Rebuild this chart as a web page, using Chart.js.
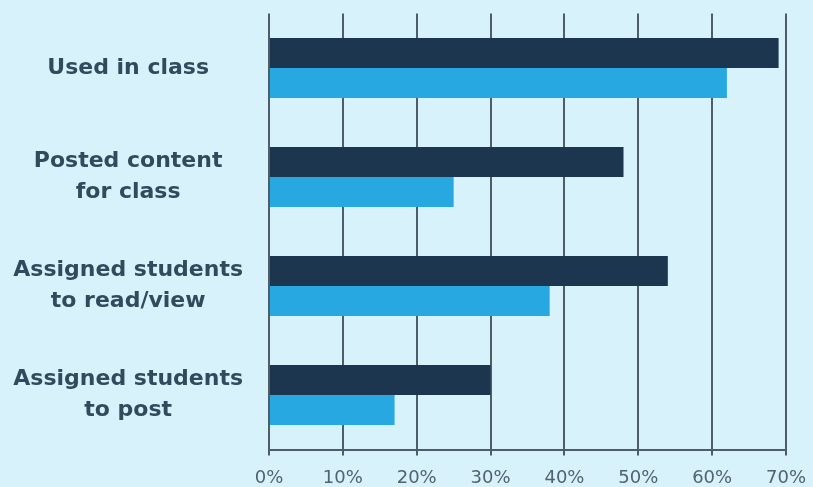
<!DOCTYPE html>
<html>
<head>
<meta charset="utf-8">
<script src="https://cdn.jsdelivr.net/npm/chart.js@4"></script>
<style>
  html, body { margin: 0; padding: 0; background: #d8f2fc; }
  canvas { display: block; }
</style>
</head>
<body>
<canvas id="chart" width="813" height="487"></canvas>
<script>
// categories (multi-line labels) and the two series
const categories = [
    ["Used in class"],
    ["Posted content", "for class"],
    ["Assigned students", "to read/view"],
    ["Assigned students", "to post"]
];
const darkValues = [69, 48, 54, 30];
const lightValues = [62, 25, 38, 17];
const tickValues = [0, 10, 20, 30, 40, 50, 60, 70];

const gridColor = "#4e5e66";

const ctx = document.getElementById("chart").getContext("2d");

const chart = new Chart(ctx, {
    type: "bar",
    data: {
        labels: categories,
        datasets: [
            {
                label: "dark",
                data: darkValues,
                backgroundColor: "#1c3650",
                borderWidth: 0,
                categoryPercentage: 0.55,
                barPercentage: 1.0
            },
            {
                label: "light",
                data: lightValues,
                backgroundColor: "#27a8e1",
                borderWidth: 0,
                categoryPercentage: 0.55,
                barPercentage: 1.0
            }
        ]
    },
    options: {
        indexAxis: "y",
        responsive: false,
        animation: false,
        layout: {
            padding: { top: 13.5, right: 27, left: 0, bottom: 0 }
        },
        plugins: {
            legend: { display: false },
            tooltip: { enabled: false }
        },
        scales: {
            x: {
                min: tickValues[0],
                max: tickValues[tickValues.length - 1],
                afterBuildTicks: (scale) => {
                    scale.ticks = tickValues.map((v) => ({ value: v }));
                },
                afterFit: (scale) => {
                    scale.height = 37.5;
                    scale.paddingLeft = 0;
                    scale.paddingRight = 0;
                },
                grid: {
                    color: gridColor,
                    lineWidth: 2,
                    drawTicks: true,
                    tickLength: 6
                },
                border: {
                    display: true,
                    color: gridColor,
                    width: 2
                },
                ticks: {
                    padding: 12,
                    color: "#50636e",
                    font: { family: "DejaVu Sans", size: 18 },
                    callback: (v) => v + "%"
                }
            },
            y: {
                afterFit: (scale) => {
                    // keep the label column fixed and stop it padding the chart area
                    scale.width = 269;
                    scale.paddingTop = 0;
                    scale.paddingBottom = 0;
                },
                grid: { display: false, drawTicks: false },
                border: { display: false },
                ticks: {
                    crossAlign: "center",
                    padding: 26,
                    color: "#2f4b5d",
                    font: { family: "DejaVu Sans", size: 22, weight: "bold", lineHeight: 1.4 }
                }
            }
        }
    }
});
</script>
</body>
</html>
